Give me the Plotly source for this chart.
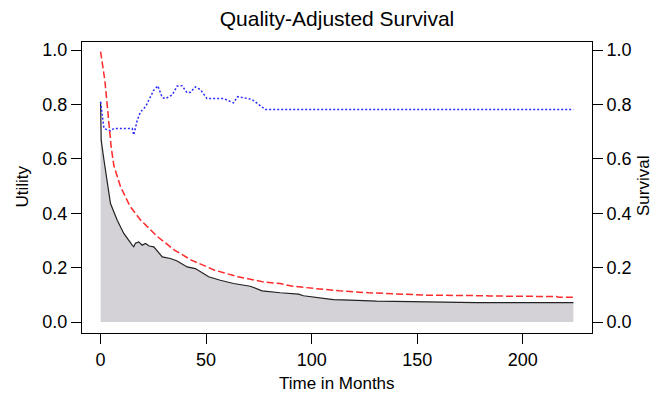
import plotly.graph_objects as go

# Quality-adjusted survival (black line with grey fill)
qas_t = [0, 0.3, 1.6, 3.2, 4.7, 7.9, 11, 15, 15.7, 16.5, 18.1, 19.7, 21.3, 23, 25.2, 29.2, 33.1,
         36.3, 41, 44.9, 51.2, 56.7, 63, 70.9, 76.5, 85.1, 93.8, 96.1, 102.5, 110.3, 118.2,
         130.8, 147.4, 178.1, 224]
qas_v = [0.81, 0.669, 0.596, 0.51, 0.436, 0.375, 0.326, 0.283, 0.277, 0.29, 0.295, 0.283, 0.289,
         0.28, 0.277, 0.240, 0.234, 0.225, 0.203, 0.197, 0.167, 0.154, 0.142, 0.132, 0.115,
         0.108, 0.103, 0.097, 0.091, 0.083, 0.081, 0.077, 0.075, 0.072, 0.072]

# Survival (red dashed)
surv_t = [0, 1, 2, 3, 4, 5, 6.3, 8, 9.5, 14, 19, 27, 35, 43, 54, 65, 77, 85, 91, 101, 113, 127,
          139, 154, 155, 183, 184, 216, 217, 224]
surv_v = [0.995, 0.95, 0.89, 0.81, 0.72, 0.645, 0.575, 0.53, 0.497, 0.425, 0.375, 0.314, 0.265,
          0.228, 0.191, 0.167, 0.148, 0.142, 0.132, 0.124, 0.115, 0.108, 0.105, 0.101, 0.099,
          0.097, 0.096, 0.094, 0.091, 0.091]

# Utility (blue dotted)
util_t = [0, 1.6, 4.7, 6.3, 15, 15.7, 17.4, 18.9, 21.3, 22.8, 25.2, 27.1, 29.2, 30.7, 33.9, 36.3,
          38.6, 41, 42.6, 44.9, 47.3, 50.4, 58.3, 63, 64.9, 71.7, 76.5, 78, 224]
util_v = [0.81, 0.712, 0.703, 0.712, 0.712, 0.688, 0.743, 0.773, 0.792, 0.816, 0.853, 0.869, 0.826,
          0.822, 0.835, 0.868, 0.869, 0.843, 0.845, 0.865, 0.855, 0.822, 0.822, 0.806, 0.829,
          0.819, 0.792, 0.782, 0.782]

x_ticks = [0, 50, 100, 150, 200]
y_ticks = [0.0, 0.2, 0.4, 0.6, 0.8, 1.0]
y_tick_text = ["0.0", "0.2", "0.4", "0.6", "0.8", "1.0"]

FONT = "Liberation Sans, Arial, sans-serif"

fig = go.Figure()
fig.add_trace(go.Scatter(x=qas_t, y=qas_v, mode="lines", fill="tozeroy",
                         fillcolor="rgb(212,210,215)",
                         line=dict(color="#222222", width=1.2), showlegend=False))
fig.add_trace(go.Scatter(x=surv_t, y=surv_v, mode="lines",
                         line=dict(color="#ff2a2a", width=1.5, dash="7px,3px"),
                         showlegend=False, yaxis="y2"))
fig.add_trace(go.Scatter(x=util_t, y=util_v, mode="lines",
                         line=dict(color="#2a2aff", width=1.5, dash="2px,2px"),
                         showlegend=False))

axis_common = dict(ticks="outside", ticklen=10, tickwidth=1.2, tickcolor="black",
                   showgrid=False, zeroline=False, automargin=False,
                   tickfont=dict(family=FONT, size=18, color="black"))

fig.update_layout(
    width=656, height=394,
    margin=dict(l=82, r=64, t=42, b=61, autoexpand=False),
    paper_bgcolor="white", plot_bgcolor="white",
    title=dict(text="Quality-Adjusted Survival", x=0.5, xanchor="center",
               xref="paper", y=0.952, yanchor="middle", automargin=False,
               font=dict(family=FONT, size=21, color="black")),
    xaxis=dict(range=[-8.8, 232.8], tickvals=x_ticks, showline=True, linecolor="black",
               linewidth=1.2, mirror=True, **axis_common),
    yaxis=dict(range=[-0.04, 1.03], tickvals=y_ticks, ticktext=y_tick_text,
               showline=True, linecolor="black", linewidth=1.2, mirror=True,
               **axis_common),
    yaxis2=dict(range=[-0.04, 1.03], tickvals=y_ticks, ticktext=y_tick_text,
                overlaying="y", side="right", showline=False, **axis_common),
    annotations=[
        dict(text="Time in Months", xref="paper", yref="paper", x=0.5, y=-0.175,
             xanchor="center", yanchor="middle", showarrow=False,
             font=dict(family=FONT, size=17, color="black")),
        dict(text="Utility", xref="paper", yref="paper", x=-0.1167, y=0.505,
             xanchor="center", yanchor="middle", showarrow=False, textangle=-90,
             font=dict(family=FONT, size=17, color="black")),
        dict(text="Survival", xref="paper", yref="paper", x=1.1, y=0.505,
             xanchor="center", yanchor="middle", showarrow=False, textangle=-90,
             font=dict(family=FONT, size=17, color="black")),
    ],
)

fig.write_html("out.html",
               config={"displayModeBar": False},
               post_script="document.body.style.margin='0px';"
                           "document.body.style.overflow='hidden';")
